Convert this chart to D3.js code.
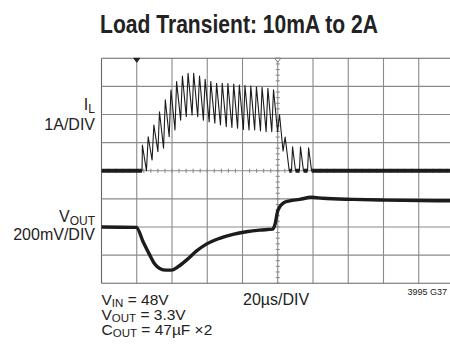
<!DOCTYPE html>
<html><head><meta charset="utf-8">
<script src="https://cdn.jsdelivr.net/npm/d3@7"></script>
<style>
html,body{margin:0;padding:0;background:#fff;}
svg{display:block;}
text{font-family:"Liberation Sans",Arial,sans-serif;fill:#222;}
</style></head><body>
<svg id="chart" width="450" height="350"></svg>
<script>
// Time axis in µs: 20 µs per division, 10 divisions
const timeTicks = [0, 20, 40, 60, 80, 100, 120, 140, 160, 180, 200];
// Vertical divisions of the screen
const divTicks = [0, 1, 2, 3, 4, 5, 6, 7, 8];

// Inductor current I_L (A) – trace vertices
const ilTime = [0, 23.0,
  23.2, 25.5, 26.5, 28.7, 29.7, 32.0, 32.9, 35.2, 36.2, 38.4, 39.4, 41.7,
  42.6, 44.9, 45.9, 48.1, 49.1, 51.4, 52.3, 54.6, 55.6, 57.8, 58.8, 61.1,
  62.0, 64.3, 65.3, 67.5, 68.5, 70.8, 71.7, 74.0, 75.0, 77.2, 78.2, 80.5,
  81.4, 83.7, 84.7, 86.9, 87.9, 90.2, 91.1, 93.4, 94.4, 96.6, 97.6, 99.9,
  101.0, 103.0, 104.2, 106.5, 107.8, 108.4, 110.1, 112.3, 112.9, 114.6,
  116.9, 117.5, 119.2, 200];
const ilAmps = [0, 0,
  0.91, 0.00, 1.21, 0.38, 1.63, 0.68, 2.10, 0.80, 2.52, 1.21, 2.87, 1.45,
  3.17, 1.80, 3.37, 1.92, 3.47, 1.98, 3.47, 1.92, 3.37, 1.80, 3.25, 1.74,
  3.17, 1.69, 3.11, 1.63, 3.11, 1.57, 3.10, 1.54, 3.08, 1.51, 3.05, 1.47,
  3.03, 1.45, 3.01, 1.45, 2.99, 1.42, 2.97, 1.39, 2.93, 1.39, 2.88, 1.39,
  2.00, 0.70, 1.20, 0.00, 0.00, 0.85, 0.00, 0.00, 0.85, 0.00,
  0.00, 0.82, 0.00, 0];

// Output voltage deviation from nominal (mV)
const voutTime = [0, 19.8, 23.6, 27.4, 30.2, 33.0, 36.8, 39.7, 43.4, 48.2,
  53.8, 59.5, 67.0, 74.6, 82.2, 89.7, 97.2, 98.5, 100.1, 102.9, 106.7,
  112.4, 119.0, 125.6, 142.6, 161.5, 200];
const voutMv = [0, -3, -105, -200, -264, -295, -307, -307, -283, -236,
  -172, -122, -81, -53, -34, -22, -15, 21, 120, 168, 186,
  196, 211, 204, 196, 191, 186];

// Load-step markers along the top edge (µs)
const markerTime = [20, 100];

const svg = d3.select("#chart");
svg.append("rect").attr("width", 450).attr("height", 350).attr("fill", "#fff");

const x = d3.scaleLinear().domain([0, 200]).range([101.5, 454]);
const yDiv = d3.scaleLinear().domain([0, 8]).range([283.2, 58.3]);
const yIL = d3.scaleLinear().domain([-4, 4]).range([283.2, 58.3]);
const yV = d3.scaleLinear().domain([-400, 1200]).range([283.2, 58.3]);

// Graticule
const grid = svg.append("g").attr("stroke", "#8a8a8a").attr("stroke-width", 1.1);
grid.selectAll("line.v").data(timeTicks).join("line")
  .attr("x1", d => x(d)).attr("x2", d => x(d))
  .attr("y1", yDiv(8)).attr("y2", yDiv(0))
  .attr("stroke", d => d === 0 ? "#666" : null);
grid.selectAll("line.h").data(divTicks).join("line")
  .attr("x1", x(0)).attr("x2", x(200))
  .attr("y1", d => yDiv(d)).attr("y2", d => yDiv(d))
  .attr("stroke", d => (d === 0 || d === 8) ? "#666" : null);

// Minor ticks on the centre lines
const minorT = d3.range(0, 200.1, 4);
grid.selectAll("line.mh").data(minorT).join("line")
  .attr("x1", d => x(d)).attr("x2", d => x(d))
  .attr("y1", yDiv(4) - 2).attr("y2", yDiv(4) + 2);
const minorD = d3.range(0, 8.01, 0.2);
grid.selectAll("line.mv").data(minorD).join("line")
  .attr("x1", x(100) - 2).attr("x2", x(100) + 2)
  .attr("y1", d => yDiv(d)).attr("y2", d => yDiv(d));

// Markers
svg.selectAll("path.mk").data(markerTime).join("path")
  .attr("d", d => `M${x(d) - 3},${yDiv(8)} L${x(d) + 3},${yDiv(8)} L${x(d)},${yDiv(8) + 4} Z`)
  .attr("fill", (d, i) => i === 0 ? "#222" : "#fff")
  .attr("stroke", (d, i) => i === 0 ? "#222" : "#777")
  .attr("stroke-width", 1);

// Output voltage trace
const vLine = d3.line().x(i => x(voutTime[i])).y(i => yV(voutMv[i])).curve(d3.curveMonotoneX);
svg.append("path").attr("d", vLine(d3.range(voutTime.length)))
  .attr("fill", "none").attr("stroke", "#1c1c1c").attr("stroke-width", 3.4)
  .attr("stroke-linejoin", "round");

// Inductor current trace
const ilLine = d3.line().x(i => x(ilTime[i])).y(i => yIL(ilAmps[i]));
svg.append("path").attr("d", ilLine(d3.range(ilTime.length)))
  .attr("fill", "none").attr("stroke", "#1c1c1c").attr("stroke-width", 1.1)
  .attr("stroke-linejoin", "round");
// Idle (zero-current) stretches read thicker on the scope
const idle = d3.range(ilTime.length - 1).filter(i => ilAmps[i] === 0 && ilAmps[i + 1] === 0);
svg.selectAll("line.idle").data(idle).join("line")
  .attr("x1", i => x(ilTime[i])).attr("x2", i => x(ilTime[i + 1]))
  .attr("y1", i => yIL(ilAmps[i])).attr("y2", i => yIL(ilAmps[i + 1]))
  .attr("stroke", "#1c1c1c").attr("stroke-width", 4);

// Title
svg.append("text").attr("x", 239).attr("y", 33).attr("text-anchor", "middle")
  .attr("font-family", "'Liberation Sans Narrow','DejaVu Sans Condensed',sans-serif")
  .attr("font-weight", "bold").attr("font-size", 25)
  .attr("textLength", 278).attr("lengthAdjust", "spacingAndGlyphs")
  .text("Load Transient: 10mA to 2A");

// Channel labels
function subLabel(xp, yp, main, sub, anchor) {
  const t = svg.append("text").attr("x", xp).attr("y", yp)
    .attr("text-anchor", anchor).attr("font-size", 16);
  t.append("tspan").text(main);
  t.append("tspan").attr("font-size", 12).attr("dy", 2.5).text(sub);
  return t;
}
function plain(xp, yp, s, size, anchor) {
  return svg.append("text").attr("x", xp).attr("y", yp)
    .attr("text-anchor", anchor || "start").attr("font-size", size).text(s);
}
subLabel(95, 110, "I", "L", "end");
plain(95, 130, "1A/DIV", 16, "end");
subLabel(95, 222, "V", "OUT", "end");
plain(95, 240, "200mV/DIV", 16, "end");

// Conditions
function cond(yp, main, sub, rest) {
  const t = svg.append("text").attr("x", 101.5).attr("y", yp).attr("font-size", 15.5);
  t.append("tspan").text(main);
  t.append("tspan").attr("font-size", 11.5).attr("dy", 2).text(sub);
  t.append("tspan").attr("dy", -2).text(rest);
}
cond(305, "V", "IN", " = 48V");
cond(320, "V", "OUT", " = 3.3V");
cond(334.5, "C", "OUT", " = 47µF ×2");
plain(243, 305, "20µs/DIV", 16);
plain(447, 295, "3995 G37", 9, "end");
</script>
</body></html>
